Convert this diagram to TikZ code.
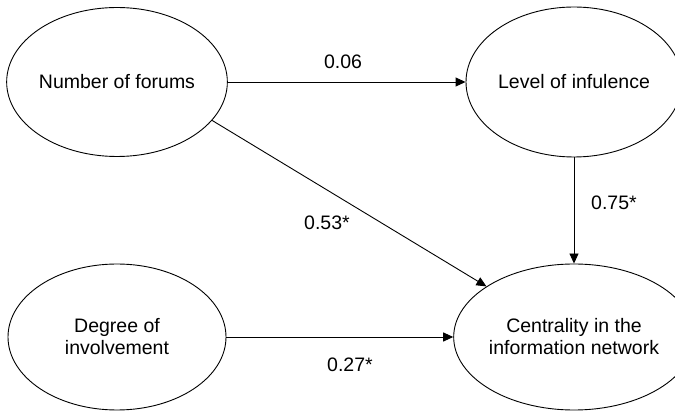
\documentclass[tikz,border=0pt]{standalone}
\usepackage{fontspec}
\setmainfont{Liberation Sans}
\usetikzlibrary{arrows.meta,shapes.geometric}
\begin{document}
\begin{tikzpicture}[x=1pt,y=-1pt,
  latent/.style={ellipse,draw,line width=0.9pt,inner sep=0pt,align=center,
    font=\fontsize{19.5}{22}\selectfont},
  lbl/.style={inner sep=0pt,font=\fontsize{19.5}{22}\selectfont},
  conn/.style={line width=0.9pt,-{Triangle[length=10pt,width=9pt]}}]
\useasboundingbox (0,0) rectangle (675,411);
\node[latent,minimum width=218pt,minimum height=149pt] (e1) at (117,82) {Number of forums};
\node[latent,minimum width=216pt,minimum height=150pt] (e2) at (574,82) {Level of infulence};
\node[latent,minimum width=218pt,minimum height=146pt] (e3) at (117,337) {Degree of\\involvement};
\node[latent,minimum width=216pt,minimum height=146pt] (e4) at (574,337) {Centrality in the\\information network};
\draw[conn] (e1.east) -- (e2.west);
\draw[conn] (e2.south) -- (e4.north);
\draw[conn] (e3.east) -- (e4.west);
\draw[conn] (e1.-22) -- (e4.150);
\node[lbl] (l1) at (343,62) {0.06};
\node[lbl] (l2) at (327,223) {0.53*};
\node[lbl] (l3) at (614,203) {0.75*};
\node[lbl] (l4) at (350,365) {0.27*};
\end{tikzpicture}
\end{document}
